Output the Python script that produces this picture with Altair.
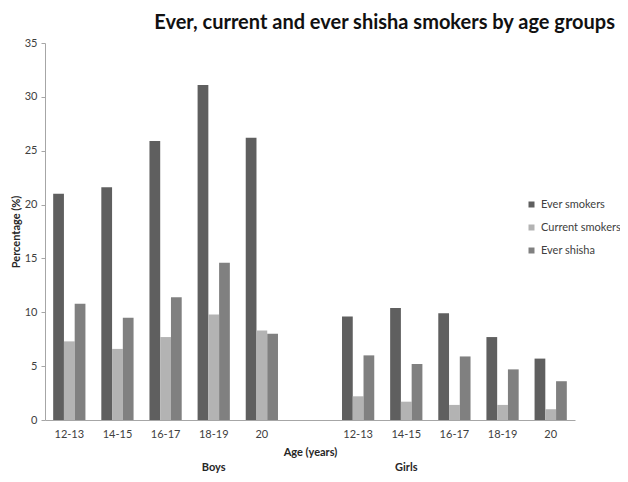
import altair as alt
import pandas as pd

ages = ["12-13", "14-15", "16-17", "18-19", "20"]
groups = ["Boys", "Girls"]
series = ["Ever smokers", "Current smokers", "Ever shisha"]
colors = ["#5f5f5f", "#b3b3b3", "#808080"]

boys_ever = [21.0, 21.6, 25.9, 31.1, 26.2]
boys_current = [7.3, 6.6, 7.7, 9.8, 8.3]
boys_shisha = [10.8, 9.5, 11.4, 14.6, 8.0]
girls_ever = [9.6, 10.4, 9.9, 7.7, 5.7]
girls_current = [2.2, 1.7, 1.4, 1.4, 1.0]
girls_shisha = [6.0, 5.2, 5.9, 4.7, 3.6]

rows = []
for g, vals in [("Boys", [boys_ever, boys_current, boys_shisha]),
                ("Girls", [girls_ever, girls_current, girls_shisha])]:
    for s, arr in zip(series, vals):
        for a, v in zip(ages, arr):
            rows.append({"slot": f"{g}|{a}", "series": s, "value": v})
df = pd.DataFrame(rows)

domain = [f"Boys|{a}" for a in ages] + ["gap|"] + [f"Girls|{a}" for a in ages]
group_labels = pd.DataFrame({"slot": ["Boys|18-19", "Girls|14-15"], "label": groups})

FONT = "Lato"
W, H = 530, 377

xscale = alt.Scale(domain=domain, paddingInner=0.33, paddingOuter=0.17)

bars = alt.Chart(df).mark_bar().encode(
    x=alt.X("slot:N", scale=xscale, sort=domain,
            axis=alt.Axis(title="Age (years)", labelExpr="split(datum.label, '|')[1]",
                          labelAngle=0, ticks=False, labelPadding=8, titlePadding=7)),
    xOffset=alt.XOffset("series:N", sort=series, scale=alt.Scale(domain=series, paddingInner=0)),
    y=alt.Y("value:Q", scale=alt.Scale(domain=[0, 35], nice=False),
            axis=alt.Axis(title="Percentage (%)", values=list(range(0, 36, 5)), grid=False,
                          tickSize=4, labelPadding=4, titlePadding=3)),
    color=alt.Color("series:N", sort=series,
                    scale=alt.Scale(domain=series, range=colors),
                    legend=alt.Legend(title=None, orient="none", legendX=481, legendY=156,
                                      symbolType="square", symbolSize=36, rowPadding=11,
                                      labelFontSize=11, labelFont=FONT, labelColor="#404040",
                                      symbolStrokeWidth=0)),
)

text = alt.Chart(group_labels).mark_text(fontWeight="bold", fontSize=11, font=FONT,
                                         baseline="bottom", color="#262626").encode(
    x=alt.X("slot:N", scale=xscale, sort=domain, title="Age (years)"),
    y=alt.value(H + 53),
    text="label:N",
)

chart = alt.layer(bars, text).properties(
    width=W, height=H,
    autosize=alt.AutoSizeParams(type="none"),
    padding={"left": 37, "top": 35, "right": 45, "bottom": 54},
    title=alt.TitleParams("Ever, current and ever shisha smokers by age groups",
                          anchor="end", frame="group", dx=40, offset=4,
                          font=FONT, fontSize=20, fontWeight="bold", color="#111111"),
).configure_view(stroke=None).configure_axis(
    domainColor="#a6a6a6", tickColor="#a6a6a6",
    labelFont=FONT, labelFontSize=11, labelColor="#404040",
    titleFont=FONT, titleFontSize=11, titleFontWeight="bold", titleColor="#262626",
)

chart.save("out.html", embed_options={"renderer": "svg", "actions": False})
